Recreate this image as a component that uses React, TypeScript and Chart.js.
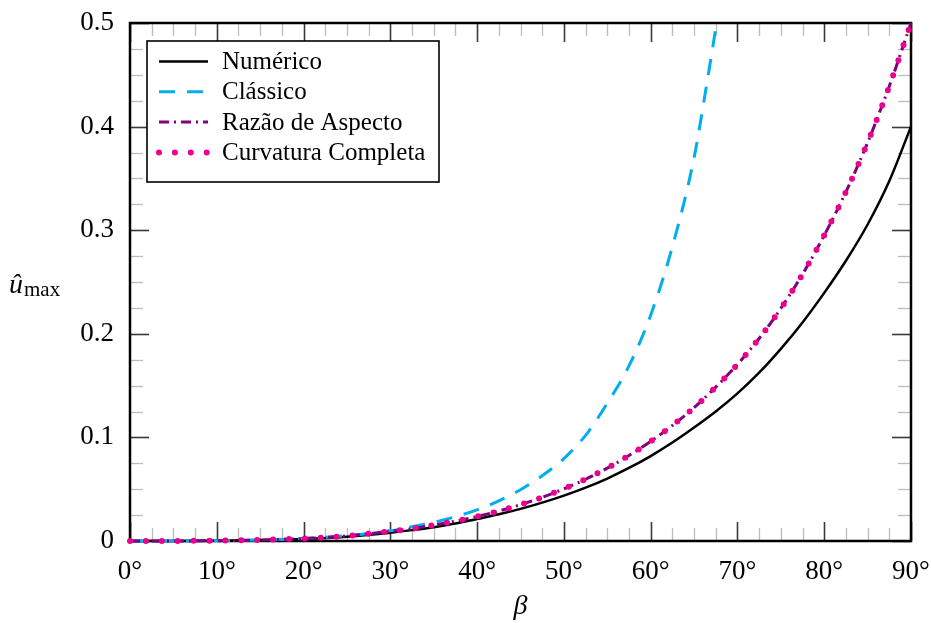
import React, { useEffect, useRef } from "react";
import { Chart, registerables } from "chart.js";

Chart.register(...registerables);

// ---- Data ----
const betaDeg = [0, 5, 10, 15, 20, 25, 30, 32.5, 35, 37.5, 40, 42.5, 45, 47.5, 50, 52.5, 55, 57.5, 60, 62.5, 65, 67.5, 70, 72.5, 75, 77.5, 80, 82.5, 85, 87.5, 90];
const numerico = [0, 0.00005, 0.0003, 0.001, 0.002, 0.0042, 0.008, 0.0105, 0.0133, 0.0168, 0.0213, 0.0258, 0.031, 0.037, 0.0438, 0.0515, 0.0603, 0.0705, 0.082, 0.095, 0.1095, 0.125, 0.1425, 0.1625, 0.1855, 0.211, 0.2395, 0.2705, 0.3055, 0.3475, 0.4];
const razaoAspecto = [0, 0.00005, 0.0003, 0.001, 0.0024, 0.0049, 0.0093, 0.0119, 0.0153, 0.0192, 0.0237, 0.0289, 0.0351, 0.0422, 0.0503, 0.0596, 0.0703, 0.0825, 0.0962, 0.1115, 0.1288, 0.1485, 0.1705, 0.1955, 0.2245, 0.2575, 0.295, 0.337, 0.3845, 0.439, 0.5];
const curvaturaCompleta = [0, 0.00005, 0.0003, 0.001, 0.0024, 0.0049, 0.0093, 0.0119, 0.0153, 0.0192, 0.0237, 0.0289, 0.0351, 0.0422, 0.0503, 0.0596, 0.0703, 0.0825, 0.0962, 0.1115, 0.1288, 0.1485, 0.1705, 0.1955, 0.2245, 0.2575, 0.295, 0.337, 0.3845, 0.439, 0.5];
const betaClassico = [0, 5, 10, 15, 20, 25, 30, 32.5, 35, 37.5, 40, 42.5, 45, 47.5, 50, 52.5, 55, 57.5, 60, 62.5, 65, 66.5, 67.6];
const classico = [0, 0.00005, 0.0003, 0.001, 0.0025, 0.0052, 0.0098, 0.0138, 0.018, 0.0235, 0.03, 0.0388, 0.0495, 0.063, 0.0796, 0.102, 0.133, 0.169, 0.218, 0.284, 0.37, 0.443, 0.5];

const seriesLabels = ["Numérico", "Clássico", "Razão de Aspecto", "Curvatura Completa"];
const xAxisTitle = "β";
const yAxisTitleMain = "û";
const yAxisTitleSub = "max";

const SERIF = "'Liberation Serif', 'Times New Roman', serif";

const toPts = (xs: number[], ys: number[]) => xs.map((x, i) => ({ x, y: ys[i] }));

const zeroPad = (s: any) => {
  s.paddingLeft = 0;
  s.paddingRight = 0;
  s.paddingTop = 0;
  s.paddingBottom = 0;
};

const framePlugin = {
  id: "frameAndLegend",
  beforeDatasetsDraw(chart: any) {
    const { ctx, chartArea: a, scales } = chart;
    const xs = scales.x;
    const ys = scales.y;
    ctx.save();
    const line = (x1: number, y1: number, x2: number, y2: number) => {
      ctx.beginPath();
      ctx.moveTo(x1, y1);
      ctx.lineTo(x2, y2);
      ctx.stroke();
    };
    for (let i = 0; i <= 36; i++) {
      const v = i * 2.5;
      const major = i % 4 === 0;
      const px = Math.round(xs.getPixelForValue(v)) + 0.5;
      ctx.strokeStyle = major ? "#3a3a3a" : "#bdbdbd";
      ctx.lineWidth = major ? 1.6 : 1.3;
      const len = major ? 19 : 13;
      line(px, a.bottom, px, a.bottom - len);
      line(px, a.top, px, a.top + len);
    }
    for (let i = 0; i <= 20; i++) {
      const v = i * 0.025;
      const major = i % 4 === 0;
      const py = Math.round(ys.getPixelForValue(v)) + 0.5;
      ctx.strokeStyle = major ? "#3a3a3a" : "#bdbdbd";
      ctx.lineWidth = major ? 1.6 : 1.3;
      const len = major ? 19 : 13;
      line(a.left, py, a.left + len, py);
      line(a.right, py, a.right - len, py);
    }
    ctx.strokeStyle = "#000";
    ctx.lineWidth = 2.5;
    ctx.strokeRect(a.left, a.top, a.right - a.left, a.bottom - a.top);
    ctx.restore();
  },
  afterDatasetsDraw(chart: any) {
    const { ctx, chartArea: a } = chart;
    ctx.save();
    const bx = a.left + 17;
    const by = a.top + 18;
    const bw = 292;
    const bh = 141;
    ctx.fillStyle = "#fff";
    ctx.fillRect(bx, by, bw, bh);
    ctx.strokeStyle = "#000";
    ctx.lineWidth = 1.6;
    ctx.strokeRect(bx, by, bw, bh);
    const ds = chart.data.datasets;
    ds.forEach((d: any, i: number) => {
      const yc = by + 20.5 + i * 30.3;
      ctx.save();
      ctx.strokeStyle = d.borderColor;
      ctx.lineWidth = d.borderWidth;
      ctx.lineCap = d.borderCapStyle || "butt";
      ctx.setLineDash(d.borderDash || []);
      ctx.beginPath();
      ctx.moveTo(bx + 12, yc);
      ctx.lineTo(bx + 61, yc);
      ctx.stroke();
      ctx.restore();
      ctx.fillStyle = "#000";
      ctx.font = `25px ${SERIF}`;
      ctx.textBaseline = "middle";
      ctx.textAlign = "left";
      ctx.fillText(d.label, bx + 75, yc + 1);
    });
    ctx.fillStyle = "#000";
    ctx.textBaseline = "alphabetic";
    ctx.textAlign = "left";
    ctx.font = `italic 28px ${SERIF}`;
    const tx = 9;
    ctx.fillText(yAxisTitleMain, tx, 293);
    const w = ctx.measureText(yAxisTitleMain).width;
    ctx.font = `21px ${SERIF}`;
    ctx.fillText(yAxisTitleSub, tx + w + 1, 296);
    ctx.restore();
  },
};

export default function App() {
  const ref = useRef<HTMLCanvasElement | null>(null);

  useEffect(() => {
    if (!ref.current) return;
    const chart = new Chart(ref.current, {
      type: "line",
      data: {
        datasets: [
          {
            label: seriesLabels[0],
            data: toPts(betaDeg, numerico),
            borderColor: "#000000",
            borderWidth: 2.5,
            pointRadius: 0,
            cubicInterpolationMode: "monotone",
            order: 3,
            clip: 8,
          },
          {
            label: seriesLabels[1],
            data: toPts(betaClassico, classico),
            borderColor: "#00AEEF",
            borderWidth: 3,
            borderDash: [16, 12],
            pointRadius: 0,
            cubicInterpolationMode: "monotone",
            order: 2,
            clip: 2,
          },
          {
            label: seriesLabels[2],
            data: toPts(betaDeg, razaoAspecto),
            borderColor: "#800080",
            borderWidth: 3,
            borderDash: [10, 5, 2, 5],
            pointRadius: 0,
            cubicInterpolationMode: "monotone",
            order: 1,
            clip: 8,
          },
          {
            label: seriesLabels[3],
            data: toPts(betaDeg, curvaturaCompleta),
            borderColor: "#EC008C",
            borderWidth: 6,
            borderDash: [0, 15.9],
            borderCapStyle: "round",
            pointRadius: 0,
            cubicInterpolationMode: "monotone",
            order: 0,
            clip: 8,
          },
        ] as any,
      },
      options: {
        animation: false,
        responsive: false,
        devicePixelRatio: 1,
        layout: { padding: { top: 23, right: 20, left: 0, bottom: 0 } },
        plugins: {
          legend: { display: false },
          tooltip: { enabled: false },
        },
        scales: {
          x: {
            type: "linear",
            min: 0,
            max: 90,
            grid: { display: false, drawTicks: false },
            border: { display: false },
            ticks: {
              stepSize: 10,
              padding: 15,
              color: "#000",
              font: { family: SERIF, size: 27 },
              callback: (v: any) => `${v}°`,
              maxRotation: 0,
            },
            title: {
              display: true,
              text: xAxisTitle,
              color: "#000",
              font: { family: SERIF, size: 28, style: "italic" },
              padding: { top: 0, bottom: 0 },
            },
            afterFit: (s: any) => {
              s.height = 82;
              zeroPad(s);
            },
          },
          y: {
            type: "linear",
            min: 0,
            max: 0.5,
            grid: { display: false, drawTicks: false },
            border: { display: false },
            ticks: {
              stepSize: 0.1,
              padding: 16,
              color: "#000",
              font: { family: SERIF, size: 27 },
              callback: (v: any) => (Number(v) === 0 ? "0" : Number(v).toFixed(1)),
            },
            afterFit: (s: any) => {
              s.width = 130;
              zeroPad(s);
            },
          },
        },
      } as any,
      plugins: [framePlugin],
    });
    return () => chart.destroy();
  }, []);

  return (
    <div style={{ position: "absolute", left: 0, top: 0, width: 931, height: 623, background: "#fff" }}>
      <canvas ref={ref} width={931} height={623} style={{ display: "block" }} />
    </div>
  );
}
